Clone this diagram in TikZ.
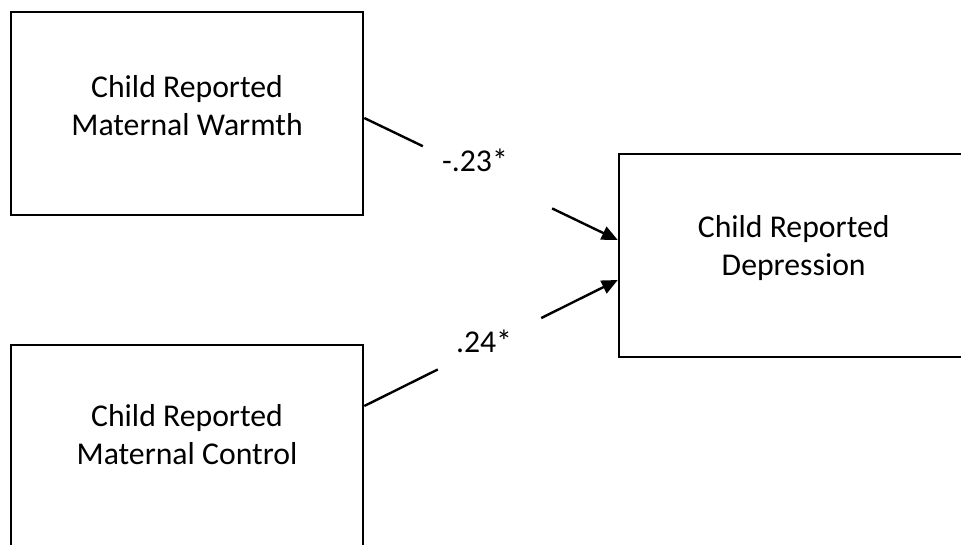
\documentclass[tikz,border=0pt]{standalone}
\usepackage{fontspec}
\setmainfont{Carlito}
\usetikzlibrary{calc,arrows.meta}
\begin{document}
\begin{tikzpicture}[x=0.75pt,y=-0.75pt,
  box/.style={draw=black,line width=1.9pt,minimum width=264pt,minimum height=152.25pt,inner sep=0pt},
  txt/.style={align=center,font=\fontsize{23.8}{28.5}\selectfont,inner sep=0pt},
  lbl/.style={font=\fontsize{23.8}{28.5}\selectfont,inner sep=0pt},
  conn/.style={line width=1.8pt},
  arr/.style={line width=1.8pt,-{Triangle[length=12pt,width=10.5pt]}}]
\useasboundingbox (0,0) rectangle (961,544);
\begin{scope}
\clip (0,0) rectangle (961,544);
\node[box] (warmth) at (187,113.5) {};
\node[box] (control) at (187,446.5) {};
\node[box,minimum width=262pt] (dep) at (793.7,255.5) {};
\node[txt] (twarmth) at ($(warmth)+(0,-8)$) {Child Reported\\Maternal Warmth};
\node[txt] (tcontrol) at ($(control)+(0,-12)$) {Child Reported\\Maternal Control};
\node[txt] (tdep) at ($(dep)+(0,-7)$) {Child Reported\\Depression};
\coordinate (a1) at ($(warmth.east)+(0,4.5)$);
\coordinate (a2) at ($(dep.west)+(0,-15.5)$);
\coordinate (b1) at ($(control.east)+(0,-40.5)$);
\coordinate (b2) at ($(dep.west)+(0,24.5)$);
\draw[conn] (a1) -- ($(a1)!0.231!(a2)$);
\draw[arr] ($(a1)!0.741!(a2)$) -- (a2);
\draw[conn] (b1) -- ($(b1)!0.29!(b2)$);
\draw[arr] ($(b1)!0.698!(b2)$) -- (b2);
\node[lbl] (l1) at (475,160) {-.23*};
\node[lbl] (l2) at (484,341) {.24*};
\end{scope}
\end{tikzpicture}
\end{document}
